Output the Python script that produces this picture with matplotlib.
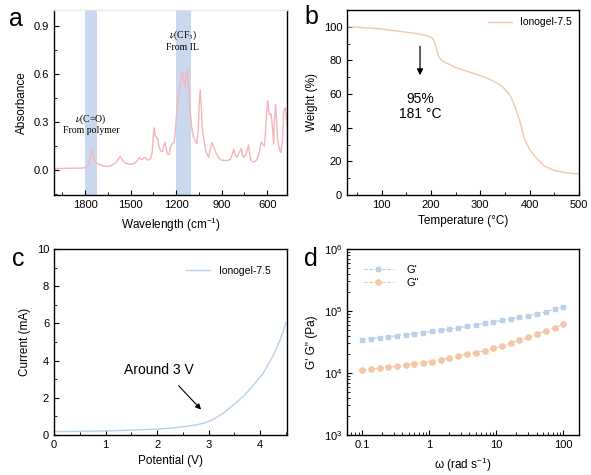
import numpy as np
import matplotlib
matplotlib.use("Agg")
import matplotlib.pyplot as plt
from matplotlib.ticker import MultipleLocator, LogLocator, FixedLocator, NullFormatter

plt.rcParams['font.family'] = ['Liberation Sans', 'DejaVu Sans']
plt.rcParams['mathtext.fontset'] = 'custom'
plt.rcParams['mathtext.rm'] = 'Liberation Sans'
plt.rcParams['mathtext.it'] = 'Liberation Sans:italic'
plt.rcParams['axes.linewidth'] = 1.0

# ---- data ----
# (a) FTIR
ftir_wn = [2004, 1900, 1820, 1790, 1775, 1765, 1755, 1745, 1735, 1715, 1690, 1660, 1630,
           1600, 1580, 1569, 1555, 1536, 1500, 1470, 1450, 1442, 1432, 1420, 1409, 1395,
           1382, 1368, 1358, 1350, 1345, 1338, 1330, 1323, 1312, 1300, 1290, 1282, 1275,
           1266, 1257, 1246, 1236, 1225, 1213, 1205, 1196, 1185, 1174, 1165, 1158, 1150,
           1141, 1133, 1125, 1116, 1108, 1097, 1086, 1064, 1055, 1048, 1042, 1035, 1028,
           1020, 1005, 987, 975, 965, 955, 936, 915, 899, 870, 844, 830, 822, 812, 800,
           785, 771, 762, 756, 741, 730, 723, 715, 708, 690, 668, 650, 640, 628, 618, 608,
           600, 596, 590, 585, 575, 569, 562, 558, 552, 545, 538, 532, 520, 510, 500, 492,
           481, 470]
ftir_abs = [0.010, 0.012, 0.013, 0.016, 0.035, 0.090, 0.130, 0.095, 0.050, 0.040, 0.030,
            0.022, 0.027, 0.045, 0.070, 0.085, 0.065, 0.044, 0.036, 0.045, 0.070, 0.079,
            0.066, 0.070, 0.081, 0.070, 0.062, 0.075, 0.110, 0.230, 0.265, 0.215, 0.205,
            0.200, 0.140, 0.118, 0.115, 0.150, 0.175, 0.130, 0.098, 0.100, 0.150, 0.165,
            0.175, 0.250, 0.370, 0.460, 0.520, 0.590, 0.610, 0.560, 0.520, 0.600, 0.630,
            0.500, 0.370, 0.260, 0.205, 0.165, 0.250, 0.420, 0.502, 0.400, 0.260, 0.200,
            0.120, 0.080, 0.130, 0.173, 0.150, 0.105, 0.070, 0.062, 0.060, 0.066, 0.100,
            0.130, 0.095, 0.080, 0.110, 0.135, 0.090, 0.080, 0.096, 0.130, 0.158, 0.090,
            0.060, 0.050, 0.065, 0.120, 0.175, 0.160, 0.150, 0.300, 0.420, 0.433, 0.370,
            0.345, 0.350, 0.300, 0.220, 0.165, 0.330, 0.412, 0.300, 0.190, 0.130, 0.110,
            0.180, 0.370, 0.390, 0.280]
bands = [(1800, 1720), (1200, 1100)]

# (b) TGA
tga_T = [30, 60, 100, 140, 170, 190, 200, 205, 210, 215, 222, 232, 250, 272, 300, 320,
         340, 350, 360, 370, 380, 390, 400, 415, 430, 450, 475, 500]
tga_W = [100, 99.6, 98.7, 97.2, 96.0, 94.8, 93.8, 92.5, 88.5, 82.6, 80.0, 78.4, 75.8,
         73.7, 71.0, 68.7, 65.6, 62.8, 59.5, 53.0, 44.0, 33.0, 27.0, 21.5, 17.2, 14.5,
         13.2, 12.5]

# (c) LSV
lsv_V = [0, 0.5, 1.0, 1.5, 2.0, 2.3, 2.58, 2.75, 2.9, 3.0, 3.1, 3.3, 3.48, 3.7, 3.87,
         4.06, 4.26, 4.4, 4.5]
lsv_I = [0.18, 0.20, 0.22, 0.26, 0.32, 0.38, 0.47, 0.54, 0.63, 0.73, 0.86, 1.20, 1.62,
         2.15, 2.70, 3.33, 4.32, 5.20, 6.05]

# (d) rheology
omega = [0.1, 0.135, 0.183, 0.247, 0.333, 0.450, 0.607, 0.820, 1.107, 1.494, 2.017, 2.723,
         3.676, 4.962, 6.70, 9.04, 12.2, 16.5, 22.2, 30.0, 40.5, 54.7, 73.9, 100]
G1 = [34400, 35700, 37000, 38400, 40000, 41500, 43100, 44800, 46800, 48800, 51000, 53500,
      56500, 59500, 63000, 66800, 70500, 74500, 79000, 84000, 90000, 97000, 107000, 118000]
G2 = [11100, 11500, 11900, 12400, 12900, 13400, 14100, 14600, 15300, 16300, 17400, 18800,
      20300, 21300, 22700, 25000, 27400, 30200, 33500, 37500, 42500, 47500, 54000, 61200]

pink = '#f4b5bb'
peach = '#f6c6a8'
blue = '#b9d0e8'
band_col = '#cad8ef'

tick_fs = 8
lab_fs = 8.5

fig = plt.figure(figsize=(5.91, 4.75), dpi=100)
axa = fig.add_axes([0.0914, 0.5895, 0.3942, 0.3895])
axb = fig.add_axes([0.5871, 0.5895, 0.3926, 0.3895])
axc = fig.add_axes([0.0914, 0.0842, 0.3942, 0.3916])
axd = fig.add_axes([0.5871, 0.0842, 0.3926, 0.3916])

for ax in (axa, axb, axc, axd):
    ax.tick_params(which='both', direction='in', labelsize=tick_fs, top=False, right=False)
    ax.tick_params(which='major', length=3.5, width=0.8)
    ax.tick_params(which='minor', length=2, width=0.6)

# ---- a ----
for hi, lo in bands:
    axa.axvspan(lo, hi, color=band_col, lw=0, zorder=0)
axa.plot(ftir_wn, ftir_abs, color=pink, lw=1.0)
axa.set_xlim(2005, 470)
axa.set_ylim(-0.155, 1.0)
axa.xaxis.set_major_locator(MultipleLocator(300))
axa.xaxis.set_minor_locator(MultipleLocator(150))
axa.yaxis.set_major_locator(FixedLocator([0.0, 0.3, 0.6, 0.9]))
axa.yaxis.set_minor_locator(MultipleLocator(0.15))
axa.set_yticklabels(['0.0', '0.3', '0.6', '0.9'])
axa.spines['top'].set_color('#e4e4e4')
axa.spines['top'].set_linestyle(':')
axa.set_xlabel('Wavelength (cm$^{-1}$)', fontsize=lab_fs)
axa.set_ylabel('Absorbance', fontsize=lab_fs)
sfont = dict(family='Liberation Serif', fontsize=7, ha='center', va='center',
             math_fontfamily='stix')
axa.text(1762, 0.32, r'$\nu$(C=O)', **sfont)
axa.text(1762, 0.245, 'From polymer', **sfont)
axa.text(1156, 0.84, r'$\nu$(CF$_3$)', **sfont)
axa.text(1156, 0.765, 'From IL', **sfont)

# ---- b ----
axb.plot(tga_T, tga_W, color=peach, lw=1.0, label='Ionogel-7.5')
axb.set_xlim(30, 500)
axb.set_ylim(0, 110)
axb.xaxis.set_major_locator(MultipleLocator(100))
axb.xaxis.set_minor_locator(MultipleLocator(50))
axb.yaxis.set_major_locator(FixedLocator([0, 20, 40, 60, 80, 100]))
axb.yaxis.set_minor_locator(MultipleLocator(10))
axb.set_xlabel('Temperature (°C)', fontsize=lab_fs)
axb.set_ylabel('Weight (%)', fontsize=lab_fs)
axb.annotate('', xy=(178, 69.5), xytext=(178, 90),
             arrowprops=dict(arrowstyle='-|>', color='black', lw=0.9,
                             mutation_scale=9))
axb.text(178, 57.3, '95%', fontsize=10, ha='center', va='center')
axb.text(178, 48.2, '181 °C', fontsize=10, ha='center', va='center')
axb.legend(loc='upper right', frameon=False, fontsize=7.5, handlelength=2.3,
           borderaxespad=0.3)

# ---- c ----
axc.plot(lsv_V, lsv_I, color=blue, lw=1.0, label='Ionogel-7.5')
axc.set_xlim(0, 4.52)
axc.set_ylim(0, 10)
axc.xaxis.set_major_locator(MultipleLocator(1))
axc.xaxis.set_minor_locator(MultipleLocator(0.5))
axc.yaxis.set_major_locator(MultipleLocator(2))
axc.yaxis.set_minor_locator(MultipleLocator(1))
axc.set_xlabel('Potential (V)', fontsize=lab_fs)
axc.set_ylabel('Current (mA)', fontsize=lab_fs)
axc.annotate('', xy=(2.89, 1.26), xytext=(2.38, 2.76),
             arrowprops=dict(arrowstyle='-|>', color='black', lw=0.8,
                             mutation_scale=8))
axc.text(2.03, 3.51, 'Around 3 V', fontsize=10, ha='center', va='center')
axc.legend(loc='upper right', frameon=False, fontsize=7.5, handlelength=2.3,
           borderaxespad=1.2)

# ---- d ----
axd.plot(omega, G1, color=blue, lw=0.8, ls='--', marker='s', ms=3.4, mec=blue,
         label="G'")
axd.plot(omega, G2, color=peach, lw=0.8, ls='--', marker='o', ms=3.8, mec=peach,
         label='G"')
axd.set_xscale('log')
axd.set_yscale('log')
axd.set_xlim(0.06, 171)
axd.set_ylim(1e3, 1e6)
axd.set_xticks([0.1, 1, 10, 100])
axd.set_xticklabels(['0.1', '1', '10', '100'])
axd.xaxis.set_minor_locator(LogLocator(base=10, subs=np.arange(2, 10)))
axd.xaxis.set_minor_formatter(NullFormatter())
axd.yaxis.set_minor_locator(LogLocator(base=10, subs=np.arange(2, 10)))
axd.yaxis.set_minor_formatter(NullFormatter())
axd.set_xlabel('ω (rad s$^{-1}$)', fontsize=lab_fs)
axd.set_ylabel('G\' G" (Pa)', fontsize=lab_fs)
axd.legend(loc='upper left', frameon=False, fontsize=8, handlelength=2.8,
           borderaxespad=1.0, labelspacing=0.3, handletextpad=1.2)

# panel letters
fig.text(0.015, 0.96, 'a', fontsize=18, va='center', ha='left')
fig.text(0.515, 0.965, 'b', fontsize=18, va='center', ha='left')
fig.text(0.02, 0.455, 'c', fontsize=18, va='center', ha='left')
fig.text(0.515, 0.455, 'd', fontsize=18, va='center', ha='left')

fig.savefig('out.png', dpi=100)
